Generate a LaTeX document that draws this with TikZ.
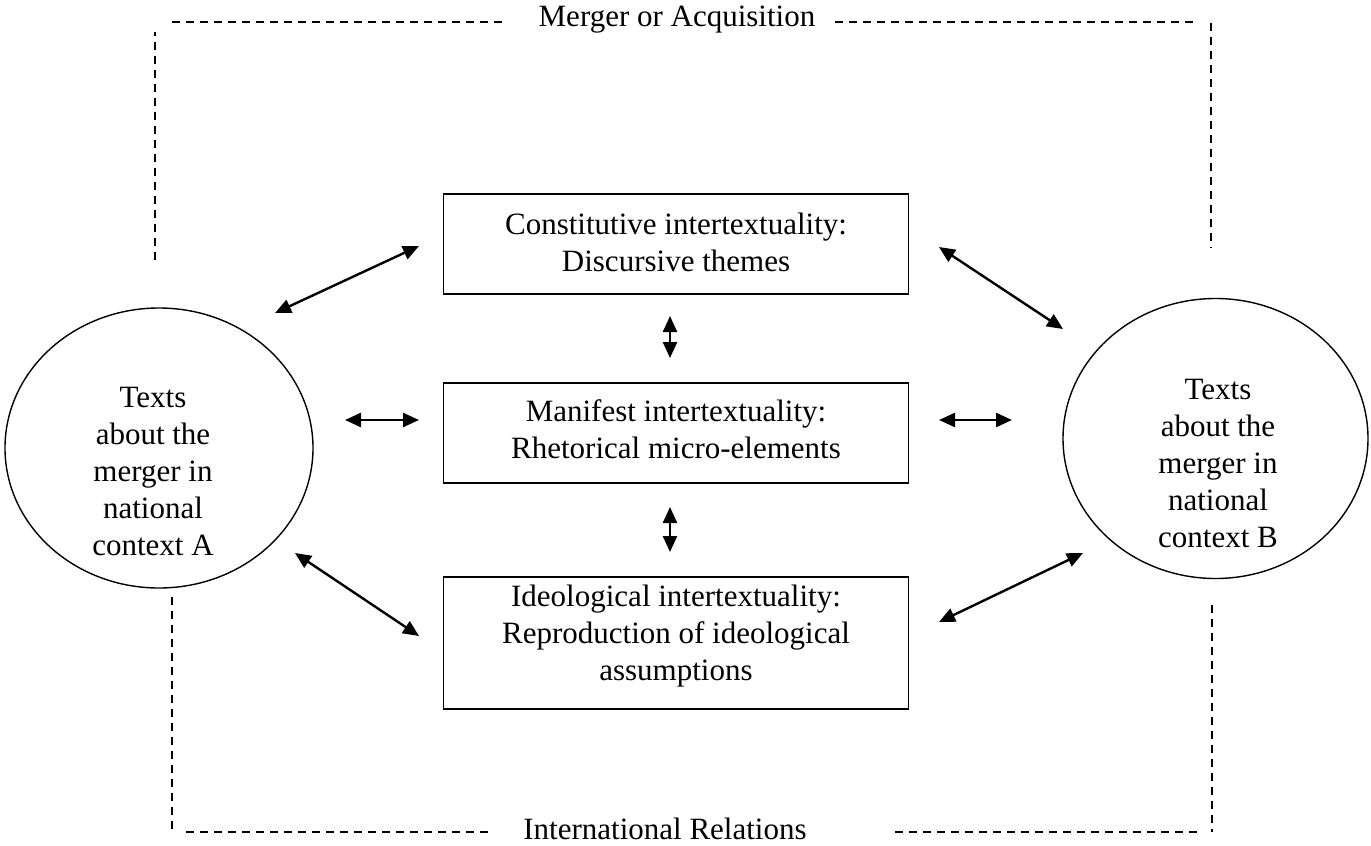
\documentclass[tikz,border=0pt]{standalone}
\usepackage{fontspec}
\setmainfont{Liberation Serif}
\usetikzlibrary{arrows.meta,shapes.geometric}
\begin{document}
\begin{tikzpicture}[x=1pt,y=-1pt,
  txt/.style={align=center, font=\fontsize{31}{37}\selectfont, inner sep=0pt},
  box/.style={draw, line width=1.6pt, minimum width=465pt, inner sep=0pt},
  oval/.style={draw, ellipse, line width=1.4pt, inner sep=0pt},
  dsh/.style={line width=2.2pt, dash pattern=on 8pt off 6pt},
  biarrow/.style={line width=2.4pt, {Triangle[length=16pt,width=14pt]}-{Triangle[length=16pt,width=14pt]}}
]
\useasboundingbox (0,0) rectangle (1371,846);

% boxes
\node[box, minimum height=100pt] (cons) at (676,244) {};
\node[box, minimum height=100pt] (mani) at (676,433) {};
\node[box, minimum height=132pt] (ideo) at (676,643) {};
% ellipses
\node[oval, minimum width=308pt, minimum height=280pt] (ovA) at (159,448) {};
\node[oval, minimum width=305pt, minimum height=280pt] (ovB) at (1215.5,438.5) {};

% texts
\node[txt] (tA) at (153,471) {Texts\\about the\\merger in\\national\\context A};
\node[txt] (tB) at (1218,463) {Texts\\about the\\merger in\\national\\context B};
\node[txt] (tcons) at (676,242) {Constitutive intertextuality:\\Discursive themes};
\node[txt] (tmani) at (676,429) {Manifest intertextuality:\\Rhetorical micro-elements};
\node[txt] (tideo) at (676,636) {Ideological intertextuality:\\Reproduction of ideological\\assumptions};
\node[txt] (lm) at (677,20) {Merger or Acquisition};
\node[txt] (lir) at (665,829) {International Relations};

% arrow end points
\coordinate (a1s) at (275,313); \coordinate (a1e) at (419,246);
\coordinate (a2s) at (345,420); \coordinate (a2e) at (419,420);
\coordinate (a3s) at (295,553); \coordinate (a3e) at (419,636);
\coordinate (b1s) at (939,247); \coordinate (b1e) at (1063,329);
\coordinate (b2s) at (939,420); \coordinate (b2e) at (1012,420);
\coordinate (b3s) at (939,622); \coordinate (b3e) at (1083,553);
\coordinate (v1s) at (670,316); \coordinate (v1e) at (670,358);
\coordinate (v2s) at (670,507); \coordinate (v2e) at (670,552);

\draw[biarrow] (a1s) -- (a1e);
\draw[biarrow] (a2s) -- (a2e);
\draw[biarrow] (a3s) -- (a3e);
\draw[biarrow] (b1s) -- (b1e);
\draw[biarrow] (b2s) -- (b2e);
\draw[biarrow] (b3s) -- (b3e);
\draw[biarrow] (v1s) -- (v1e);
\draw[biarrow] (v2s) -- (v2e);

% dashed frame
\draw[dsh] (155,260) -- (155,32);
\draw[dsh] (172,22) -- (502,22);
\draw[dsh] (835,22) -- (1198,22);
\draw[dsh] (1211,23) -- (1211,248);
\draw[dsh] (172,597) -- (172,832);
\draw[dsh] (186,832) -- (488,832);
\draw[dsh] (895,832) -- (1198,832);
\draw[dsh] (1212,605) -- (1212,832);
\end{tikzpicture}
\end{document}
